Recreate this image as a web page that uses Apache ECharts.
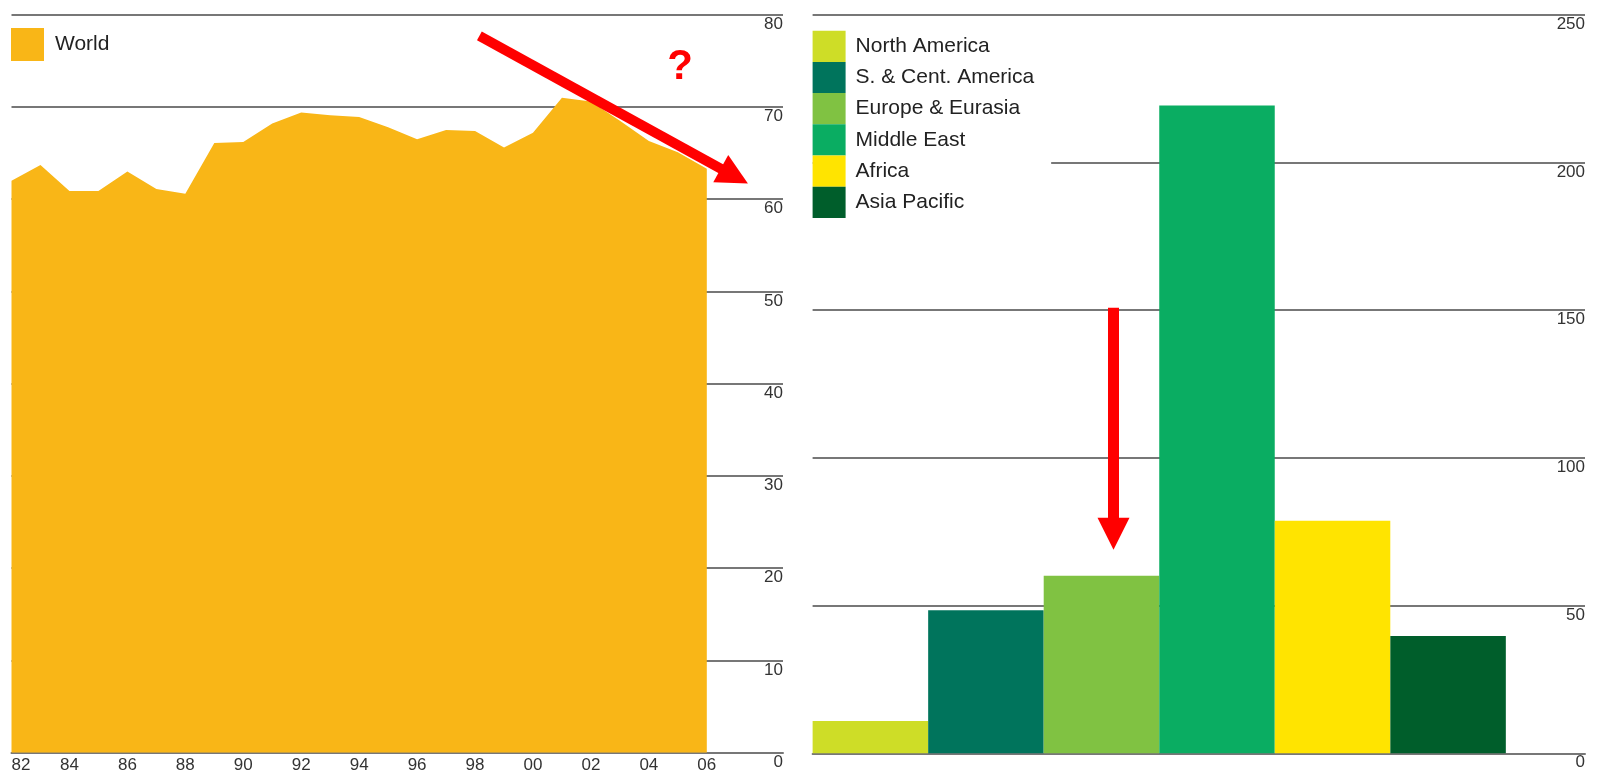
<!DOCTYPE html>
<html>
<head>
<meta charset="utf-8">
<script src="https://cdn.jsdelivr.net/npm/echarts@6/dist/echarts.min.js"></script>
<style>
  html, body { margin: 0; padding: 0; background: #fff; }
  #chart { width: 1597px; height: 775px; }
</style>
</head>
<body>
<div id="chart"></div>
<script>
// world R/P ratio (years), 1982-2006
const years = [1982, 1983, 1984, 1985, 1986, 1987, 1988, 1989, 1990, 1991, 1992, 1993, 1994,
  1995, 1996, 1997, 1998, 1999, 2000, 2001, 2002, 2003, 2004, 2005, 2006]
const worldValues = [62.0, 63.7, 60.9, 60.9, 63.0, 61.1, 60.6, 66.1, 66.2, 68.2, 69.4, 69.1, 68.9,
  67.8, 66.5, 67.5, 67.4, 65.6, 67.2, 71.0, 70.6, 68.5, 66.3, 65.1, 63.3]

// R/P ratio by region, 2006
const regions = ['North America', 'S. & Cent. America', 'Europe & Eurasia', 'Middle East', 'Africa', 'Asia Pacific']
const regionValues = [10.9, 48.4, 60.1, 219.3, 78.7, 39.7]
const regionColors = ['#CEDD27', '#00745C', '#80C242', '#0AAD62', '#FFE400', '#005E2B']

// red annotations (data coordinates)
const worldArrow = [[1998.15, 77.7], [2006.95, 62.5]]
const worldQuestion = [2005.08, 74.3]
const regionArrow = [[2.604, 150.8], [2.604, 74.3]]

const font = 'Liberation Sans, Arial, sans-serif'
const gridLine = { color: '#777', width: 2 }

const chart = echarts.init(document.getElementById('chart'))

const regionSeries = regions.map((name, i) => ({
  name,
  type: 'bar',
  xAxisIndex: 1,
  yAxisIndex: 1,
  barWidth: 115.5,
  barGap: '-100%',
  itemStyle: { color: regionColors[i] },
  data: [[i + 0.5, regionValues[i]]],
  markLine: i === 2 ? {
    silent: true,
    symbol: ['none', 'triangle'],
    symbolSize: 32,
    label: { show: false },
    lineStyle: { color: '#FF0000', width: 11, type: 'solid' },
    itemStyle: { color: '#FF0000' },
    emphasis: { disabled: true },
    data: [[{ coord: regionArrow[0] }, { coord: regionArrow[1] }]],
  } : undefined,
}))

const yLabel = {
  inside: true,
  margin: 0,
  color: '#333',
  fontSize: 17,
  fontFamily: font,
  verticalAlign: 'top',
  padding: [1, 0, 0, 0],
}

chart.setOption({
  animation: false,
  textStyle: { fontFamily: font },
  legend: [
    {
      data: ['World'],
      left: 11,
      top: 28,
      padding: 0,
      icon: 'rect',
      itemWidth: 33,
      itemHeight: 33,
      selectedMode: false,
      textStyle: { fontSize: 21, color: '#222', fontFamily: font, padding: [0, 0, 0, 6] },
    },
    {
      data: regions,
      orient: 'vertical',
      left: 812.6,
      top: 26.7,
      padding: [4, 17, 4, 0],
      backgroundColor: '#fff',
      icon: 'rect',
      itemWidth: 33,
      itemHeight: 31.2,
      itemGap: 0,
      selectedMode: false,
      textStyle: { fontSize: 21, color: '#222', fontFamily: font, padding: [0, 0, 0, 5] },
    },
  ],
  grid: [
    { left: 11.5, right: 814, top: 14.7, bottom: 22.3 },
    { left: 812.6, right: 12, top: 14.7, bottom: 21.7 },
  ],
  xAxis: [
    {
      type: 'value',
      gridIndex: 0,
      min: 1982,
      max: 2008.63,
      interval: 2,
      axisLine: { lineStyle: gridLine },
      axisTick: { show: false },
      splitLine: { show: false },
      axisLabel: {
        color: '#333',
        fontSize: 17,
        fontFamily: font,
        margin: 4,
        showMaxLabel: false,
        alignMinLabel: 'left',
        formatter: v => (v <= 2006 ? String(v).slice(2) : ''),
      },
    },
    {
      type: 'value',
      gridIndex: 1,
      min: 0,
      max: 6.685,
      axisLine: { lineStyle: gridLine },
      axisTick: { show: false },
      axisLabel: { show: false },
      splitLine: { show: false },
    },
  ],
  yAxis: [
    {
      type: 'value',
      gridIndex: 0,
      position: 'right',
      min: 0,
      max: 80,
      interval: 10,
      axisLine: { show: false },
      axisTick: { show: false },
      splitLine: { lineStyle: gridLine },
      axisLabel: yLabel,
    },
    {
      type: 'value',
      gridIndex: 1,
      position: 'right',
      min: 0,
      max: 250,
      interval: 50,
      axisLine: { show: false },
      axisTick: { show: false },
      splitLine: { lineStyle: gridLine },
      axisLabel: yLabel,
    },
  ],
  series: [
    {
      name: 'World',
      type: 'line',
      xAxisIndex: 0,
      yAxisIndex: 0,
      showSymbol: false,
      symbol: 'rect',
      itemStyle: { color: '#F9B617' },
      lineStyle: { width: 0 },
      areaStyle: { color: '#F9B617', opacity: 1 },
      data: years.map((y, i) => [y, worldValues[i]]),
      markLine: {
        silent: true,
        symbol: ['none', 'triangle'],
        symbolSize: 31,
        label: { show: false },
        lineStyle: { color: '#FF0000', width: 10, type: 'solid' },
        itemStyle: { color: '#FF0000' },
        emphasis: { disabled: true },
        data: [[{ coord: worldArrow[0] }, { coord: worldArrow[1] }]],
      },
      markPoint: {
        silent: true,
        symbol: 'circle',
        symbolSize: 1,
        itemStyle: { color: 'rgba(0,0,0,0)' },
        label: {
          show: true,
          position: 'inside',
          formatter: '?',
          color: '#FF0000',
          fontSize: 42,
          fontWeight: 'bold',
          fontFamily: font,
        },
        data: [{ coord: worldQuestion }],
      },
    },
    ...regionSeries,
  ],
})
</script>
</body>
</html>
